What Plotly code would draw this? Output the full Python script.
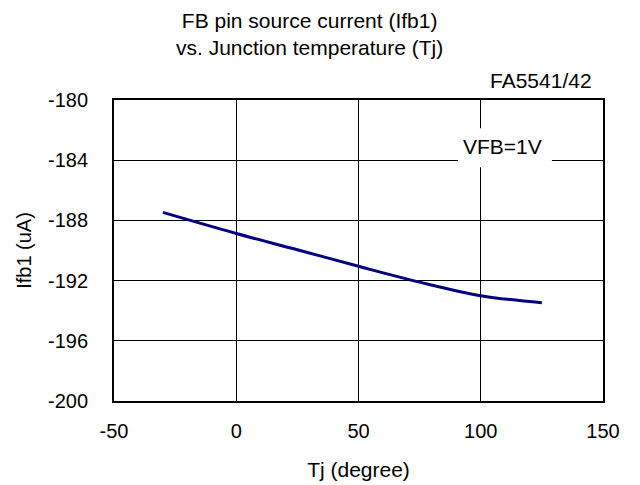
import plotly.graph_objects as go

tj = [-30, 0, 25, 50, 75, 100, 125]
ifb1 = [-187.47, -188.87, -189.95, -191.05, -192.1, -193.0, -193.47]

x_ticks = [-50, 0, 50, 100, 150]
x_labels = ["-50", "0", "50", "100", "150"]
y_ticks = [-200, -196, -192, -188, -184, -180]
y_labels = ["-200", "-196", "-192", "-188", "-184", "-180"]

FONT = "Liberation Sans, Arial, sans-serif"

fig = go.Figure()
fig.add_trace(go.Scatter(x=tj, y=ifb1, mode="lines",
                         line=dict(color="#000080", width=3, shape="spline"),
                         showlegend=False))

# page body has an 8px margin: figure is 632x477, placed at (8, 8)
fig.update_layout(
    width=632, height=477,
    margin=dict(l=106, r=37, t=92, b=84),
    paper_bgcolor="white", plot_bgcolor="white",
    font=dict(family=FONT, size=20, color="black"),
    xaxis=dict(range=[-50, 150], tickvals=x_ticks, ticktext=x_labels,
               showgrid=True, gridcolor="black", gridwidth=1, zeroline=False,
               showline=True, linecolor="black", linewidth=2, mirror=True,
               ticks="", ticklabelstandoff=11, automargin=False,
               title=dict(text="Tj (degree)", font=dict(size=21), standoff=21)),
    yaxis=dict(range=[-200, -180], tickvals=y_ticks, ticktext=y_labels,
               showgrid=True, gridcolor="black", gridwidth=1, zeroline=False,
               showline=True, linecolor="black", linewidth=2, mirror=True,
               ticks="", ticklabelstandoff=20, automargin=False,
               title=dict(text="Ifb1 (uA)", font=dict(size=20), standoff=11)),
    shapes=[dict(type="rect", xref="x", yref="y", x0=90.7, x1=129.1,
                 y0=-184.47, y1=-181.87, fillcolor="white",
                 line=dict(width=0), layer="between")],
    annotations=[
        dict(text="FB pin source current (Ifb1)<br>vs. Junction temperature (Tj)",
             xref="paper", yref="paper", x=(309 - 114) / 489, y=1,
             yanchor="bottom", yshift=39, xanchor="center",
             showarrow=False, font=dict(size=21), align="center"),
        dict(text="FA5541/42", xref="paper", yref="paper",
             x=(594 - 114) / 489, y=1, xanchor="right", yanchor="bottom",
             yshift=6, showarrow=False, font=dict(size=21)),
        dict(text="VFB=1V", xref="x", yref="y", x=109, y=-183.1,
             xanchor="center", yanchor="middle", showarrow=False,
             font=dict(size=21)),
    ],
)

fig.write_html("out.html")
